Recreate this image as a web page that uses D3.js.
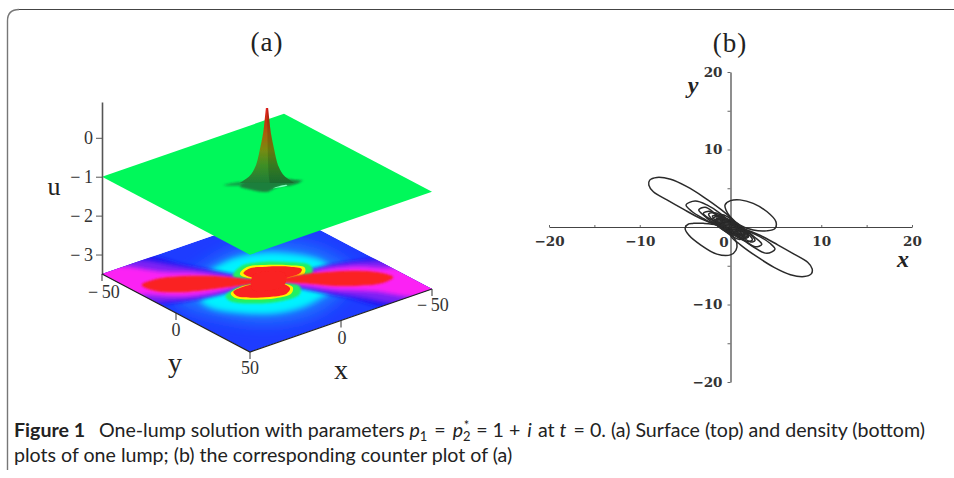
<!DOCTYPE html>
<html>
<head>
<meta charset="utf-8">
<script src="https://cdn.jsdelivr.net/npm/d3@7"></script>
<style>
  html, body { margin: 0; padding: 0; background: #fff; }
  svg { display: block; }
</style>
</head>
<body>
<svg id="fig" width="954" height="478"></svg>
<script>
// panel (a) ticks
const uTicks = [0, -1, -2, -3]
const planeCorners = [[50, -50], [50, 50], [-50, 50], [-50, -50]]
const yTicks = [-50, 0, 50]
const xTicks = [0, -50]

// density map (bottom plane), bands in (x, y) plot units
const haloBlue = [[13, -28], [-6, -33], [-26, -29], [-37, -14], [-38, 3], [-35, 17], [-13, 32], [6, 38], [26, 32], [38, 15], [43, -4], [38, -16]]
const haloCyan = [[9.4, -20.2], [-4.6, -23.8], [-18.3, -20.5], [-26.1, -9.9], [-27.3, 2.2], [-25, 11.9], [-9, 22.5], [3.9, 27], [18.4, 22.5], [27.4, 11], [30.6, -3.2], [27.6, -11.4]]
const cyanUpper = [[14, -22], [2, -26], [-12, -24], [-24, -14], [-31, -2], [-29, 6], [-12, 7], [-3, 2], [5, -7], [16, -14]]
const cyanLower = [[34, -3], [14, -5], [4, -2], [-4, 5], [-15, 14], [-16, 23], [-3, 28], [14, 27], [28, 17], [35, 6]]
const greenUpper = [[8, -13.2], [-1.5, -19], [-10.5, -16.5], [-19, -9.5], [-24.5, -1], [-20.5, 5.5], [-12, 5], [-3, 2], [4, -6]]
const greenLower = [[23, 0.2], [13, -3.6], [4, -2], [-3, 4], [-8, 12], [-3, 18.5], [8, 19], [18, 13.8], [24.5, 5.5]]
const yellowUpper = [[4.5, -12.8], [-2.4, -16.6], [-9.6, -13.3], [-17.5, -6.6], [-21.3, -0.7], [-17.5, 3.8], [-11, 3.4], [-3, 2], [3, -5]]
const yellowLower = [[19.5, -0.5], [11.5, -3], [5, -1], [-3, 4], [-5, 11.2], [-0.5, 15.8], [7.7, 15.2], [15.8, 10.4], [21, 4]]
const redUpper = [[2.7, -12.6], [-2.7, -14.75], [-9.2, -11.6], [-16.9, -5.3], [-19.4, -0.4], [-16, 2.5], [-10.6, 2.5], [-4.1, 1.4], [1.8, -4.7]]
const redLower = [[17.6, -1.1], [11.1, -2.3], [5, -0.9], [-3.7, 5.3], [-3.3, 11.5], [0.9, 14.5], [7.4, 13.4], [14.7, 8.8], [19.1, 3.1]]
const redCore = [[0.4, -8.7], [-11, -1.4], [-3.3, 7.5], [10, 2.5]]
const deepLeft = [[60, -60], [26, -56], [17, -34], [11, -22], [5, -9], [1, -2], [14, -2], [30, -4.5], [44, -9], [58, -16]]
const deepRight = [[-60, 60], [-26, 56], [-17, 34], [-11, 22], [-5, 9], [-1, 2], [-14, 2], [-30, 4.5], [-44, 9], [-58, 16]]
const violetLeft = [[56, -56], [31, -53], [21, -38], [14, -26], [8, -14], [3, -3.4], [19, -3], [32, -5], [44, -10], [56, -20]]
const violetRight = [[-56, 56], [-31, 53], [-21, 38], [-14, 26], [-8, 14], [-3, 3.4], [-19, 3], [-32, 5], [-44, 10], [-56, 20]]
const magentaLeft = [[55, -55], [40, -52], [29, -36.3], [18.8, -26.5], [10.4, -14.5], [3, -3.4], [18.7, -4.2], [30.7, -7.5], [40.5, -13.4], [47.3, -20.9], [54, -27]]
const magentaRight = [[-55, 55], [-40, 52], [-29, 36.3], [-18.8, 26.5], [-10.4, 14.5], [-3, 3.4], [-18.7, 4.2], [-30.7, 7.5], [-40.5, 13.4], [-47.3, 20.9], [-54, 27]]
const redLeft = [[43.7, -30.9], [33.5, -31.1], [23.2, -25.8], [14.3, -18.6], [7, -9.7], [1.5, -1.8], [5.7, -2.2], [17, -6.3], [28, -10.9], [37.9, -16.7], [43.4, -23.4]]
const redRight = [[-44.5, 30.6], [-42.7, 22.7], [-34.9, 14.3], [-25, 8.4], [-14.5, 3.4], [-3.2, 1.5], [-11.4, 11.6], [-18.8, 20.5], [-27.7, 27.7], [-36.9, 32.1]]

// lump on the top plane
const peakU = [0.96, 0.65, 0.32, 0.1, -0.12, -0.34, -0.56, -0.81, -0.97]
const peakHalfWidth = [0.6, 1.3, 2.1, 3, 4, 5, 6.5, 10, 15]
const peakStops = [[-1, "#1c7a38"], [-0.5, "#3f8f25"], [-0.1, "#7a8a10"], [0.3, "#a86010"], [0.65, "#c83010"], [0.96, "#e82020"]]
const lumpShadow = [[10.2, -5.7], [3.1, -7.65], [-9, 0], [-12.4, 7], [-5.9, 6], [-1.1, 5.1], [4.9, 5.9], [9, -0.5]]
const tailLeft = [[15.2, -11], [6, -8], [6, -4]]
const tailRight = [[-14.4, 6.5], [-6, 3], [-6, 7]]
const lightStreak = [[0.5, 4.7], [-6, 5.4], [-6, 6.4]]

// panel (b) contours
const longUpperLeft = [[0, 1.1], [-1.1, 2.3], [-3, 3.9], [-4.8, 5.2], [-6.6, 6.15], [-8.1, 6.4], [-8.9, 6.05], [-9, 5.4], [-8.5, 4.55], [-7, 3.5], [-5.2, 2.3], [-3.3, 1.1], [-1.5, 0.25], [0, -0.4]]
const longLowerRight = [[0, -1.1], [1.1, -2.3], [3, -3.9], [4.8, -5.2], [6.6, -6.15], [8.1, -6.4], [8.9, -6.05], [9, -5.4], [8.5, -4.55], [7, -3.5], [5.2, -2.3], [3.3, -1.1], [1.5, -0.25], [0, 0.4]]
const shortUpperRight = [[-0.6, 2.85], [0, 3.4], [1.05, 3.5], [2.5, 3.05], [4, 2], [5, 0.7], [4.9, -0.2], [4, -0.5], [2.5, -0.4], [1.05, 0.25], [0, 1.3], [-0.5, 2.2]]
const shortLowerLeft = [[-4.6, 0.4], [-5, -0.17], [-4.6, -1.03], [-3.3, -2.3], [-1.5, -3.5], [0, -3.6], [0.6, -3], [0.7, -2.1], [0.3, -1.25], [-0.4, -0.4], [-1.5, 0.25], [-3, 0.47], [-4.05, 0.47]]
const midUpperLeft = [[-4.9, 2.85], [-3.9, 3.35], [-2.6, 2.85], [-1.15, 1.75], [0, 0.45], [-1.5, 0.25], [-3, 1.1], [-4.25, 2]]
const midLowerRight = [[4.9, -2.85], [4, -3.4], [2.5, -2.55], [1.05, -1.35], [0.15, -0.4], [1.4, -0.4], [2.9, -1.05], [4.35, -2.1]]
const innerUpperLeft = [[-3.5, 2.2], [-2.8, 2.55], [-1.7, 1.75], [-0.6, 0.7], [-1.7, 0.47], [-2.8, 1.35]]
const innerLowerRight = [[3.45, -2.25], [2.7, -2.55], [1.6, -1.75], [0.5, -0.6], [1.8, -0.6], [2.7, -1.35]]
const tightUpperLeft = [[-3, 1.75], [-2.2, 2], [-0.75, 0.47], [-2.05, 0.9]]
const tightLowerRight = [[2.7, -1.75], [2.15, -1.9], [0.7, -0.47], [2, -0.8]]
const coreA = [[-2, 1.4], [-1.2, 1.4], [0.3, 0.2], [2, -1.2], [1.4, -1.5], [0, -0.4], [-1.4, 0.6]]
const coreB = [[-1.6, 1], [-0.6, 1], [0.8, 0], [1.6, -1], [0.6, -1], [-0.8, 0]]
const coreC = [[-1.1, 0.9], [0.2, 0.3], [1.2, -0.9], [-0.2, -0.3]]
const coreD = [[-0.8, 0.4], [0, 0.5], [0.8, -0.4], [0, -0.5]]
const coreE = [[-2.4, 1.7], [-1.6, 1.8], [0, 0.7], [2.2, -1.2], [2.4, -1.7], [1.6, -1.8], [0, -0.7], [-2.2, 1.2]]
const coreF = [[-2, 0.9], [-1, 1.6], [1, 0.2], [2, -0.9], [1, -1.6], [-1, -0.2]]
const coreG = [[-1.4, 1.4], [1.4, -0.4], [1.4, -1.4], [-1.4, 0.4]]
const coreH = [[-1.8, 0.7], [-0.3, 1], [1.8, -0.7], [0.3, -1]]
const contours = [longUpperLeft, longLowerRight, shortUpperRight, shortLowerLeft, midUpperLeft, midLowerRight,
  innerUpperLeft, innerLowerRight, tightUpperLeft, tightLowerRight, coreA, coreB, coreC, coreD, coreE, coreF, coreG, coreH]
// where the contours run together into a solid dark band
const denseBand = [[-1.8, 1], [-1, 1.2], [0.4, 0.55], [1.9, -0.9], [2, -1.35], [1, -1.2], [-0.4, -0.55], [-1.7, 0.55]]

const bTicks = [-20, -15, -10, -5, 5, 10, 15, 20]
const bLabelled = [-20, -10, 10, 20]

const svg = d3.select("#fig")
const defs = svg.append("defs")
const serif = "'Liberation Serif', serif"
const boldSerif = "'DejaVu Serif', serif"

// frame
svg.append("path").attr("d", "M7.5,470 V21 Q7.5,9.5 19,9.5").attr("fill", "none").attr("stroke", "#777").attr("stroke-width", 1.4)
svg.append("line").attr("x1", 19).attr("x2", 954).attr("y1", 9.5).attr("y2", 9.5).attr("stroke", "#444").attr("stroke-width", 1)

// ---- panel (a) ----
const xAcross = d3.scaleLinear().domain([-50, 50]).range([91, -91])
const xDown = d3.scaleLinear().domain([-50, 50]).range([-31.5, 31.5])
const yAcross = d3.scaleLinear().domain([-50, 50]).range([-74, 74])
const yDown = d3.scaleLinear().domain([-50, 50]).range([-39, 39])
const uScale = d3.scaleLinear().domain([0.92, -3.5]).range([102, 274])
const originX = 267
const leftCornerDrop = xDown(50) + yDown(-50)

const project = (x, y, u) => [
  originX + xAcross(x) + yAcross(y),
  uScale(u) - leftCornerDrop + xDown(x) + yDown(y)
]

const blur = (id, s) => defs.append("filter").attr("id", id)
  .attr("x", "-30%").attr("y", "-30%").attr("width", "160%").attr("height", "160%")
  .append("feGaussianBlur").attr("stdDeviation", s)
blur("b08", 0.7); blur("b1", 1.2); blur("b2", 2.2); blur("b3", 3); blur("b4", 4.5); blur("b7", 8); blur("bPeak", 0.5); blur("bLine", 0.35)

const closedOn = u => d3.line().x(d => project(d[0], d[1], u)[0]).y(d => project(d[0], d[1], u)[1]).curve(d3.curveCatmullRomClosed)
const straight = u => d3.line().x(d => project(d[0], d[1], u)[0]).y(d => project(d[0], d[1], u)[1])

defs.append("clipPath").attr("id", "planeClip").append("path").attr("d", straight(-3.5)(planeCorners) + "Z")

const densityLayers = [
  [haloBlue, "#1c78ff", "b7"],
  [haloCyan, "#00e8ff", "b4"],
  [cyanUpper, "#00f2ff", "b3"],
  [cyanLower, "#00f2ff", "b3"],
  [deepLeft, "#1a14f0", "b2"],
  [deepRight, "#1a14f0", "b2"],
  [violetLeft, "#7a20f4", "b2"],
  [violetRight, "#7a20f4", "b2"],
  [magentaLeft, "#fb20f4", "b2"],
  [magentaRight, "#fb20f4", "b2"],
  [greenUpper, "#20f060", "b1"],
  [greenLower, "#20f060", "b1"],
  [yellowUpper, "#fff200", "b08"],
  [yellowLower, "#fff200", "b08"],
  [redLeft, "#fa2020", "b1"],
  [redRight, "#fa2020", "b1"],
  [redUpper, "#fa2020", "b08"],
  [redLower, "#fa2020", "b08"],
  [redCore, "#fa2020", "b08"]
]

const density = svg.append("g").attr("clip-path", "url(#planeClip)")
density.append("path").attr("d", straight(-3.5)(planeCorners) + "Z").attr("fill", "#1e3cff")
density.selectAll("path.band").data(densityLayers).enter().append("path")
  .attr("class", "band")
  .attr("d", d => closedOn(-3.5)(d[0]))
  .attr("fill", d => d[1])
  .attr("filter", d => `url(#${d[2]})`)

// top plane
svg.append("path").attr("d", straight(-1)(planeCorners) + "Z").attr("fill", "#00f85a")

// lump base and tails
const topPlane = svg.append("g")
topPlane.append("path").attr("d", closedOn(-1)(tailLeft)).attr("fill", "#12a048").attr("filter", "url(#b1)")
topPlane.append("path").attr("d", closedOn(-1)(tailRight)).attr("fill", "#12a048").attr("filter", "url(#b1)")
topPlane.append("path").attr("d", closedOn(-1)(lumpShadow)).attr("fill", "#1a7f3c").attr("filter", "url(#b1)")
topPlane.append("path").attr("d", closedOn(-1)(lightStreak)).attr("fill", "#80ffc0").attr("filter", "url(#b08)")

// lump silhouette
const halfWidthPx = d3.scaleLinear().domain([0, 50]).range([0, 91])
const peakY = u => project(0, 0, u)[1]
const peakGrad = defs.append("linearGradient").attr("id", "peakGrad").attr("gradientUnits", "userSpaceOnUse")
  .attr("x1", 0).attr("x2", 0).attr("y1", peakY(-1)).attr("y2", peakY(0.96))
peakStops.forEach(s => peakGrad.append("stop").attr("offset", (s[0] + 1) / 1.96).attr("stop-color", s[1]))

const peakRows = peakU.map((u, i) => ({ u: u, w: peakHalfWidth[i] }))
const peakArea = d3.area()
  .y(d => peakY(d.u))
  .x0(d => originX - halfWidthPx(d.w))
  .x1(d => originX + halfWidthPx(d.w))
  .curve(d3.curveMonotoneY)
svg.append("path").datum(peakRows).attr("d", peakArea).attr("fill", "url(#peakGrad)").attr("filter", "url(#bPeak)")
const peakShade = d3.area()
  .y(d => peakY(d.u))
  .x0(d => originX + halfWidthPx(d.w) * 0.1)
  .x1(d => originX + halfWidthPx(d.w))
  .curve(d3.curveMonotoneY)
svg.append("path").datum(peakRows).attr("d", peakShade).attr("fill", "#000").attr("fill-opacity", 0.14).attr("filter", "url(#bPeak)")

// u axis
const minusGap = "\u2212\u2009"
const fmt = v => String(v).replace("-", minusGap)
const uAxisG = svg.append("g").attr("transform", "translate(102,0)")
  .call(d3.axisLeft(uScale).tickValues(uTicks).tickSizeInner(6).tickSizeOuter(0).tickPadding(3).tickFormat(fmt))
uAxisG.select(".domain").attr("stroke", "#555").attr("stroke-width", 1.6)
uAxisG.selectAll(".tick line").attr("stroke", "#555")
uAxisG.selectAll("text").attr("font-family", serif).attr("font-size", 18).attr("fill", "#333")

svg.append("text").attr("x", 54).attr("y", 195).attr("text-anchor", "middle").attr("font-family", serif).attr("font-size", 26).attr("fill", "#222").text("u")

// base plane edges and ticks
svg.append("path").attr("d", straight(-3.5)([planeCorners[0], planeCorners[1], planeCorners[2]])).attr("fill", "none").attr("stroke", "#222").attr("stroke-width", 1.2)

const tickMark = (x, y, label, lx, ly) => {
  const p = project(x, y, -3.5)
  svg.append("line").attr("x1", p[0]).attr("x2", p[0]).attr("y1", p[1]).attr("y2", p[1] + 7).attr("stroke", "#333")
  svg.append("text").attr("x", p[0] + lx).attr("y", p[1] + ly).attr("text-anchor", "middle")
    .attr("font-family", serif).attr("font-size", 18).attr("fill", "#333").text(label)
}
yTicks.forEach(v => tickMark(50, v, fmt(v), v === -50 ? 2 : 0, v === 50 ? 22 : v === 0 ? 23 : 24))
xTicks.forEach(v => tickMark(v, 50, fmt(v), 1, v === 0 ? 23 : 22))

svg.append("text").attr("x", 175).attr("y", 372).attr("text-anchor", "middle").attr("font-family", serif).attr("font-size", 28).attr("fill", "#222").text("y")
svg.append("text").attr("x", 341).attr("y", 379).attr("text-anchor", "middle").attr("font-family", serif).attr("font-size", 28).attr("fill", "#222").text("x")

svg.append("text").attr("x", 267).attr("y", 51).attr("text-anchor", "middle").attr("font-family", serif).attr("font-size", 27).attr("letter-spacing", 1).attr("fill", "#222").text("(a)")

// ---- panel (b) ----
const bx = d3.scaleLinear().domain([-20, 20]).range([549, 912])
const by = d3.scaleLinear().domain([-20, 20]).range([382, 72])
const bLabelFormat = d => bLabelled.includes(d) ? String(d).replace("-", "\u2212") : ""

const bxAxis = svg.append("g").attr("transform", `translate(0,${by(0)})`)
  .call(d3.axisBottom(bx).tickValues(bTicks).tickSizeInner(-2).tickSizeOuter(0).tickPadding(9).tickFormat(bLabelFormat))
const byAxis = svg.append("g").attr("transform", `translate(${bx(0)},0)`)
  .call(d3.axisLeft(by).tickValues(bTicks).tickSizeInner(3).tickSizeOuter(0).tickPadding(5).tickFormat(bLabelFormat))
;[bxAxis, byAxis].forEach(g => {
  g.select(".domain").attr("stroke", "#444").attr("stroke-width", 1.2)
  g.selectAll(".tick line").attr("stroke", "#666")
  g.selectAll("text").attr("font-family", boldSerif).attr("font-weight", "bold").attr("font-size", 13.5).attr("fill", "#333")
})
svg.append("text").attr("x", 724).attr("y", 247).attr("text-anchor", "middle").attr("font-family", boldSerif).attr("font-weight", "bold").attr("font-size", 13.5).attr("fill", "#333").text("0")

const contourLine = d3.line().x(d => bx(d[0])).y(d => by(d[1])).curve(d3.curveCatmullRomClosed)
const contourG = svg.append("g").attr("filter", "url(#bLine)")
contourG.append("path").attr("d", contourLine(denseBand)).attr("fill", "#222").attr("fill-opacity", 0.85)
contourG.selectAll("path.level").data(contours).enter().append("path")
  .attr("class", "level")
  .attr("d", contourLine)
  .attr("fill", "none")
  .attr("stroke", "#2a2a2a")
  .attr("stroke-width", 1.5)

svg.append("text").attr("x", 693).attr("y", 93).attr("text-anchor", "middle").attr("font-family", serif).attr("font-style", "italic").attr("font-weight", "bold").attr("font-size", 24).attr("fill", "#222").text("y")
svg.append("text").attr("x", 903).attr("y", 267).attr("text-anchor", "middle").attr("font-family", serif).attr("font-style", "italic").attr("font-weight", "bold").attr("font-size", 24).attr("fill", "#222").text("x")
svg.append("text").attr("x", 730).attr("y", 52).attr("text-anchor", "middle").attr("font-family", serif).attr("font-size", 27).attr("letter-spacing", 1).attr("fill", "#222").text("(b)")

// ---- caption ----
const captionFont = "Lato, sans-serif"
const captionSize = 19.6
const cap1 = svg.append("text").attr("x", 14).attr("y", 437).attr("font-family", captionFont).attr("font-size", captionSize).attr("fill", "#222")
cap1.append("tspan").attr("font-weight", "bold").text("Figure 1")
cap1.append("tspan").attr("dx", 14).text("One-lump solution with parameters ")
cap1.append("tspan").attr("font-style", "italic").text("p")
cap1.append("tspan").attr("dy", 4).attr("font-size", 13).text("1")
cap1.append("tspan").attr("dy", -4).attr("dx", 2).text(" = ")
cap1.append("tspan").attr("dx", 2).attr("font-style", "italic").text("p")
cap1.append("tspan").attr("dy", 4).attr("font-size", 13).text("2")
cap1.append("tspan").attr("dy", -11).attr("dx", -7).attr("font-size", 13).text("*")
cap1.append("tspan").attr("dy", 7).attr("dx", 2).text(" = 1 + ")
cap1.append("tspan").attr("dx", 2).attr("font-style", "italic").text("i")
cap1.append("tspan").attr("dx", 1).text(" at ")
cap1.append("tspan").attr("font-style", "italic").text("t")
cap1.append("tspan").attr("dx", 2).text(" = 0. (a) Surface (top) and density (bottom)")
svg.append("text").attr("x", 14).attr("y", 462).attr("font-family", captionFont).attr("font-size", captionSize).attr("fill", "#222")
  .text("plots of one lump; (b) the corresponding counter plot of (a)")
</script>
</body>
</html>
